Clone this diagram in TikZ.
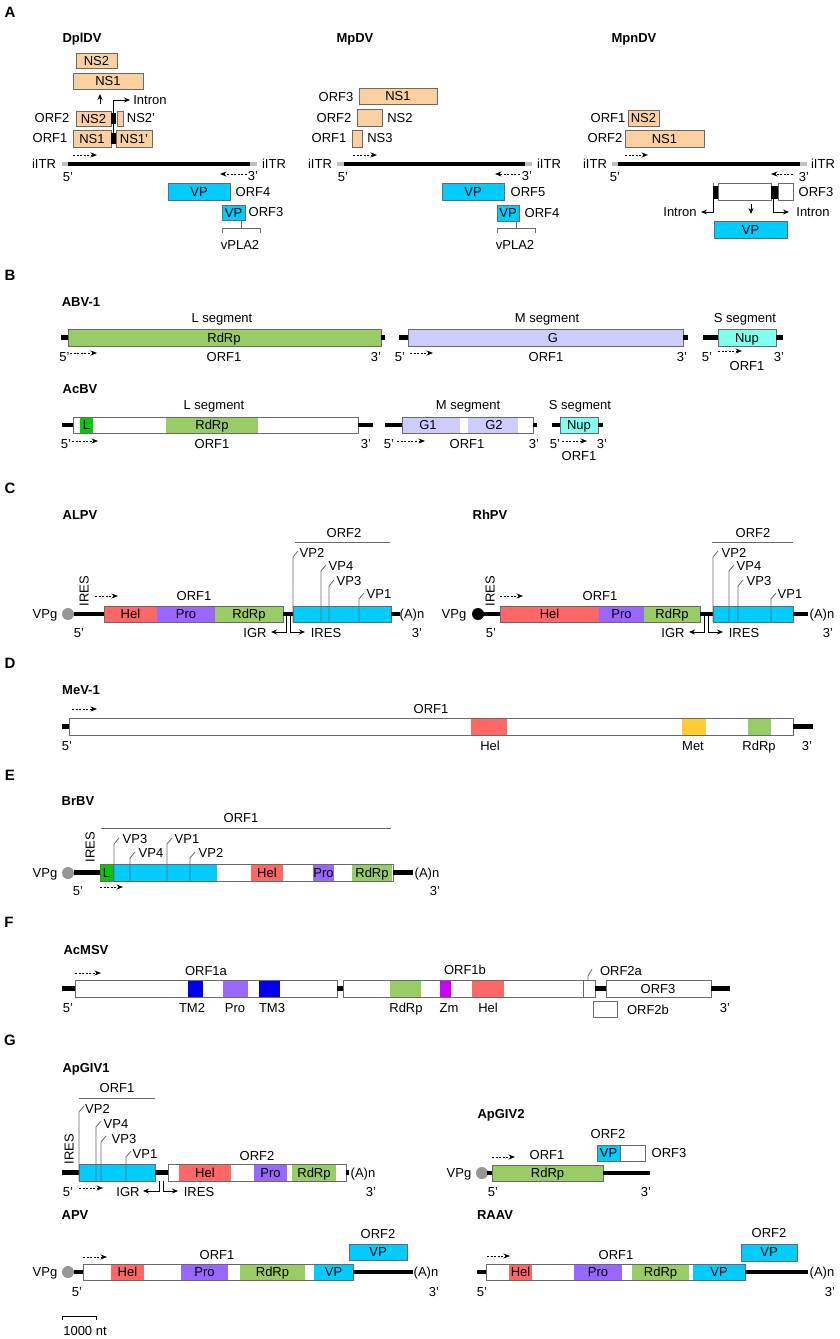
\documentclass[tikz,border=0pt]{standalone}
\usepackage{fontspec}
\setmainfont{Liberation Sans}
\usetikzlibrary{arrows.meta}
\definecolor{nsc}{RGB}{250,208,160}
\definecolor{vpc}{RGB}{0,204,255}
\definecolor{rdc}{RGB}{153,204,102}
\definecolor{hec}{RGB}{255,102,102}
\definecolor{prc}{RGB}{153,102,255}
\definecolor{glc}{RGB}{204,204,255}
\definecolor{nuc}{RGB}{128,255,238}
\definecolor{lgc}{RGB}{0,204,0}
\definecolor{mec}{RGB}{255,204,51}
\definecolor{tmc}{RGB}{0,0,238}
\definecolor{zmc}{RGB}{204,0,255}
\definecolor{bord}{RGB}{105,105,105}
\definecolor{vpgc}{RGB}{150,150,150}
\definecolor{itc}{RGB}{192,192,192}
\newcommand\lb[4]{\node[lbl] (#1) at (#2,#3) {#4};}
\newcommand\gbx[5]{\filldraw[bx,fill=#5] (#1,#2) rectangle (#3,#4);}
\newcommand\cseg[5]{\fill[#5] (#1,#2) rectangle (#3,#4);}
\newcommand\bline[3]{\draw[gl] (#1,#3) -- (#2,#3);}
\newcommand\vlead[3]{\draw[ld] (#1,#2) -- (#1,#3) -- ++(5,-6);}
\tikzset{
 lbl/.style={font=\fontsize{13}{13}\selectfont, inner sep=0pt, text height=9.3pt, text depth=0pt},
 ttl/.style={lbl, font=\bfseries\fontsize{13}{13}\selectfont},
 plet/.style={lbl, font=\bfseries\fontsize{15}{15}\selectfont, text height=10.7pt},
 bx/.style={draw=bord, line width=0.9pt},
 gl/.style={line width=4.5pt},
 itg/.style={line width=4.5pt, itc},
 ld/.style={draw=bord, line width=0.8pt},
 dar/.style={dash pattern=on 2pt off 1.6pt, line width=0.8pt, -{Stealth[length=6.5pt,width=5pt]}},
 arr/.style={line width=0.8pt, -{Stealth[length=6pt,width=5pt]}},
}
\begin{document}
\begin{tikzpicture}[x=1pt,y=-1pt]
\useasboundingbox (0,0) rectangle (839,1339);
\fill[white] (0,0) rectangle (839,1339);
%================ A
\node[plet] (pA) at (10,12) {A};
% DplDV
\node[ttl] (tA1) at (82,38) {DplDV};
\gbx{76}{53}{117}{68}{nsc} \lb{a1}{96.5}{60.5}{NS2}
\gbx{73}{73}{143}{89}{nsc} \lb{a2}{108}{81}{NS1}
\draw[arr] (100,104) -- (100,94);
\lb{a4}{52}{118}{ORF2}
\gbx{76}{111}{111}{126}{nsc} \lb{a5}{93.5}{118.5}{NS2}
\fill (111,113) rectangle (116,124);
\gbx{117}{111}{123}{126}{nsc}
\lb{a6}{141}{118}{NS2’}
\lb{a7}{50}{138}{ORF1}
\gbx{73}{130}{111}{147}{nsc} \lb{a8}{92}{138.5}{NS1}
\fill (111,133) rectangle (116,144);
\gbx{116}{130}{152}{147}{nsc} \lb{a9}{134}{138.5}{NS1’}
\draw[arr] (113.5,133) -- (113.5,100) -- (130,100);
\lb{a3}{150}{100}{Intron}
\draw[itg] (62,164) -- (68,164); \bline{68}{250}{164} \draw[itg] (250,164) -- (257,164);
\lb{a10}{44}{164}{iITR} \lb{a11}{274}{164}{iITR}
\draw[dar] (73,155) -- (97,155);
\lb{a12}{68}{177}{5’}
\draw[dar] (247,174) -- (220,174);
\lb{a13}{253}{176}{3’}
\gbx{168}{183}{230}{200}{vpc} \lb{a14}{199}{191.5}{VP} \lb{a15}{253}{192}{ORF4}
\gbx{222}{205}{245}{220}{vpc} \lb{a16}{233.5}{212.5}{VP} \lb{a17}{266}{212}{ORF3}
\draw[ld] (241,220) -- (241,228); \draw[ld] (222,233) -- (222,228) -- (260,228) -- (260,233);
\lb{a18}{240}{245}{vPLA2}
% MpDV
\node[ttl] (tA2) at (355,38) {MpDV};
\lb{b1}{336}{97}{ORF3} \gbx{359}{88}{437}{104}{nsc} \lb{b2}{398}{96}{NS1}
\lb{b3}{334}{118}{ORF2} \gbx{357}{109}{382}{126}{nsc} \lb{b4}{400}{118}{NS2}
\lb{b5}{329}{138}{ORF1} \gbx{352}{130}{362}{147}{nsc} \lb{b6}{380}{138}{NS3}
\draw[itg] (337,164) -- (344,164); \bline{344}{525}{164} \draw[itg] (525,164) -- (532,164);
\lb{b7}{320}{164}{iITR} \lb{b8}{549}{164}{iITR}
\draw[dar] (353,155) -- (377,155);
\lb{b9}{343}{177}{5’}
\draw[dar] (520,174) -- (495,174);
\lb{b10}{527}{176}{3’}
\gbx{442}{183}{504}{200}{vpc} \lb{b11}{473}{191.5}{VP} \lb{b12}{528}{192}{ORF5}
\gbx{497}{205}{519}{221}{vpc} \lb{b13}{508}{213}{VP} \lb{b14}{542}{213}{ORF4}
\draw[ld] (516,221) -- (516,228); \draw[ld] (497,233) -- (497,228) -- (535,228) -- (535,233);
\lb{b15}{515}{245}{vPLA2}
% MpnDV
\node[ttl] (tA3) at (634,38) {MpnDV};
\lb{c1}{608}{118}{ORF1} \gbx{628}{110}{659}{126}{nsc} \lb{c2}{643.5}{118}{NS2}
\lb{c3}{605}{138}{ORF2} \gbx{625}{130}{704}{147}{nsc} \lb{c4}{664.5}{138.5}{NS1}
\draw[itg] (612,164) -- (618,164); \bline{618}{800}{164} \draw[itg] (800,164) -- (807,164);
\lb{c5}{595}{164}{iITR} \lb{c6}{823}{164}{iITR}
\draw[dar] (625,155) -- (648,155);
\lb{c7}{615}{177}{5’}
\draw[dar] (793,174) -- (771,174);
\lb{c8}{804}{177}{3’}
\draw[ld] (713,183) -- (713,200);
\fill (713,186) rectangle (718,199);
\gbx{718}{183}{771}{200}{white}
\fill (771,186) rectangle (778,199);
\gbx{778}{183}{793}{200}{white}
\lb{c9}{816}{192}{ORF3}
\draw[arr] (713.5,199) -- (713.5,212) -- (701,212); \lb{c10}{680}{212}{Intron}
\draw[arr] (773.5,199) -- (773.5,212) -- (789,212); \lb{c11}{813}{212}{Intron}
\draw[arr] (751,204) -- (751,214);
\gbx{714}{221}{787}{238}{vpc} \lb{c12}{750.5}{229.5}{VP}
%================ B
\node[plet] (pB) at (10,275) {B};
\node[ttl] (tB1) at (81,302) {ABV-1};
\lb{d1}{222}{318}{L segment}
\bline{61}{68}{337.5} \gbx{68}{329}{381}{346}{rdc} \bline{381}{385}{337.5}
\lb{d2}{224}{337.5}{RdRp}
\lb{d3}{64.5}{357}{5’} \draw[dar] (70,353) -- (97,353) ; \lb{d4}{224}{357}{ORF1} \lb{d5}{376}{357}{3’}
\lb{d6}{547}{318}{M segment}
\bline{399}{408}{337.5} \gbx{408}{329}{683}{346}{glc} \bline{683}{688}{337.5}
\lb{d7}{553}{337.5}{G}
\lb{d8}{400}{357}{5’} \draw[dar] (410,353) -- (433,353); \lb{d9}{546}{357}{ORF1} \lb{d10}{682}{357}{3’}
\lb{d11}{745}{318}{S segment}
\bline{703}{718}{337.5} \gbx{718}{329}{776}{346}{nuc} \bline{776}{783}{337.5}
\lb{d12}{747}{337.5}{Nup}
\lb{d13}{707}{357}{5’} \draw[dar] (718,351) -- (742,351); \lb{d14}{747}{366}{ORF1} \lb{d15}{779}{357}{3’}
% AcBV
\node[ttl] (tB2) at (80,389) {AcBV};
\lb{e1}{214}{405}{L segment}
\bline{62}{73}{425} \gbx{73}{417}{358}{433}{white}
\cseg{80}{417}{93}{433}{lgc} \cseg{166}{417}{258}{433}{rdc}
\draw[bx] (73,417) rectangle (358,433);
\bline{358}{373}{425}
\lb{e2}{86.5}{425}{L} \lb{e3}{212}{425}{RdRp}
\lb{e4}{66}{444}{5’} \draw[dar] (72,441) -- (98,441); \lb{e5}{212}{444}{ORF1} \lb{e6}{366}{444}{3’}
\lb{e7}{468}{405}{M segment}
\bline{385}{402}{425} \gbx{402}{417}{533}{433}{white}
\cseg{402}{417}{460}{433}{glc} \cseg{468}{417}{518}{433}{glc}
\draw[bx] (402,417) rectangle (533,433);
\bline{533}{537}{425}
\lb{e8}{428}{425}{G1} \lb{e9}{494}{425}{G2}
\lb{e10}{389}{444}{5’} \draw[dar] (397,441) -- (425,441); \lb{e11}{467}{444}{ORF1} \lb{e12}{534}{444}{3’}
\lb{e13}{580}{405}{S segment}
\bline{552}{560}{425} \gbx{560}{417}{598}{433}{nuc} \bline{598}{603}{425}
\lb{e14}{579}{425}{Nup}
\lb{e15}{555}{444}{5’} \draw[dar] (562,441) -- (587,441); \lb{e16}{602}{444}{3’} \lb{e17}{579}{456}{ORF1}
%================ C
\node[plet] (pC) at (10,488) {C};
% ALPV
\node[ttl] (tC1) at (80,515) {ALPV};
\lb{f1}{344}{533}{ORF2} \draw[ld] (295,542) -- (390,542);
\lb{f2}{45}{614}{VPg}
\fill[vpgc] (68,614) circle (6);
\bline{74}{104}{614}
\cseg{104}{606}{157}{622}{hec} \cseg{157}{606}{215}{622}{prc} \cseg{215}{606}{283}{622}{rdc}
\draw[bx] (104,606) rectangle (283,622);
\lb{f3}{130.5}{614}{Hel} \lb{f4}{186}{614}{Pro} \lb{f5}{249}{614}{RdRp}
\bline{283}{293}{614}
\gbx{293}{606}{391}{622}{vpc}
\bline{391}{400}{614}
\lb{f6}{412}{614}{(A)n} \lb{f7}{417}{633}{3’} \lb{f8}{79}{633}{5’}
\vlead{293}{622}{557} \lb{f9}{312}{553}{VP2}
\vlead{321}{622}{571} \lb{f10}{341}{566}{VP4}
\vlead{329}{622}{586} \lb{f11}{349}{581}{VP3}
\vlead{359}{622}{599} \lb{f12}{379}{594}{VP1}
\node[lbl, rotate=90] (f13) at (84,591) {IRES};
\draw[dar] (95,596) -- (118,596); \lb{f14}{194}{596}{ORF1}
\draw[arr] (286,616) -- (286,632) -- (271,632); \lb{f15}{255}{633}{IGR}
\draw[arr] (290,616) -- (290,632) -- (305,632); \lb{f16}{326}{633}{IRES}
% RhPV
\node[ttl] (tC2) at (490,515) {RhPV};
\lb{g1}{753}{533}{ORF2} \draw[ld] (712,542) -- (793,542);
\lb{g2}{454}{614}{VPg}
\fill[black] (478,614) circle (6);
\bline{483}{500}{614}
\cseg{500}{606}{599}{622}{hec} \cseg{599}{606}{644}{622}{prc} \cseg{644}{606}{700}{622}{rdc}
\draw[bx] (500,606) rectangle (700,622);
\lb{g3}{549.5}{614}{Hel} \lb{g4}{621.5}{614}{Pro} \lb{g5}{672}{614}{RdRp}
\bline{700}{713}{614}
\gbx{713}{606}{793}{622}{vpc}
\bline{793}{808}{614}
\lb{g6}{822}{614}{(A)n} \lb{g7}{828}{633}{3’} \lb{g8}{491}{633}{5’}
\vlead{713}{622}{557} \lb{g9}{734}{553}{VP2}
\vlead{729}{622}{571} \lb{g10}{749}{566}{VP4}
\vlead{738}{622}{586} \lb{g11}{759}{581}{VP3}
\vlead{771}{622}{599} \lb{g12}{790}{594}{VP1}
\node[lbl, rotate=90] (g13) at (490,591) {IRES};
\draw[dar] (500,596) -- (523,596); \lb{g14}{600}{596}{ORF1}
\draw[arr] (704,616) -- (704,632) -- (689,632); \lb{g15}{673}{633}{IGR}
\draw[arr] (708,616) -- (708,632) -- (723,632); \lb{g16}{744}{633}{IRES}
%================ D
\node[plet] (pD) at (10,663) {D};
\node[ttl] (tD) at (81,690) {MeV-1};
\draw[dar] (72,709) -- (97,709); \lb{h1}{431}{709}{ORF1}
\bline{62}{69}{726.5}
\gbx{69}{718}{793}{735}{white}
\cseg{471}{718}{507}{735}{hec} \cseg{682}{718}{706}{735}{mec} \cseg{748}{718}{771}{735}{rdc}
\draw[bx] (69,718) rectangle (793,735);
\bline{793}{813}{726.5}
\lb{h2}{67}{746}{5’} \lb{h3}{490}{746}{Hel} \lb{h4}{693}{746}{Met} \lb{h5}{759}{746}{RdRp} \lb{h6}{807}{746}{3’}
%================ E
\node[plet] (pE) at (10,775) {E};
\node[ttl] (tE) at (78,801) {BrBV};
\lb{i1}{241}{818}{ORF1} \draw[ld] (101,828) -- (391,828);
\lb{i2}{45}{873}{VPg}
\fill[vpgc] (68,873) circle (6);
\bline{74}{100}{872.5}
\gbx{100}{864}{393}{881}{white}
\cseg{113}{864}{217}{881}{vpc} \cseg{251}{864}{283}{881}{hec} \cseg{313}{864}{334}{881}{prc} \cseg{352}{864}{392}{881}{rdc}
\draw[bx] (100,864) rectangle (393,881);
\gbx{100}{864}{113}{881}{lgc}
\bline{393}{413}{872.5}
\lb{i3}{106.5}{872.5}{L} \lb{i4}{267}{872.5}{Hel} \lb{i5}{323.5}{872.5}{Pro} \lb{i6}{372}{872.5}{RdRp}
\vlead{114}{881}{844} \lb{i7}{135}{839}{VP3}
\vlead{130}{881}{858} \lb{i8}{151}{853}{VP4}
\vlead{167}{881}{844} \lb{i9}{187}{839}{VP1}
\vlead{190}{881}{858} \lb{i10}{211}{853}{VP2}
\node[lbl, rotate=90] (i11) at (90,847) {IRES};
\lb{i12}{427}{873}{(A)n} \lb{i13}{78}{891}{5’} \lb{i14}{435}{891}{3’}
\draw[dar] (100,887) -- (123,887);
%================ F
\node[plet] (pF) at (9,922) {F};
\node[ttl] (tF) at (86,950) {AcMSV};
\draw[dar] (75,973) -- (101,973);
\lb{j1}{206}{971}{ORF1a} \lb{j2}{465}{970}{ORF1b}
\bline{62}{75}{988.5}
\gbx{75}{980}{337}{997}{white}
\cseg{188}{980}{203}{997}{tmc} \cseg{223}{980}{248}{997}{prc} \cseg{259}{980}{280}{997}{tmc}
\draw[bx] (75,980) rectangle (337,997);
\bline{337}{343}{988.5}
\gbx{343}{980}{583}{997}{white}
\cseg{390}{980}{421}{997}{rdc} \cseg{440}{980}{451}{997}{zmc} \cseg{472}{980}{504}{997}{hec}
\draw[bx] (343,980) rectangle (583,997);
\gbx{583}{980}{595}{997}{white}
\bline{595}{606}{988.5}
\gbx{606}{980}{711}{997}{white} \lb{j3}{658}{988.5}{ORF3}
\bline{711}{730}{988.5}
\draw[ld] (588,980) -- (588,976) -- ++(4,-7); \lb{j4}{621}{971}{ORF2a}
\lb{j5}{68}{1008}{5’} \lb{j6}{192}{1008}{TM2} \lb{j7}{235}{1008}{Pro} \lb{j8}{272}{1008}{TM3}
\lb{j9}{406}{1008}{RdRp} \lb{j10}{449}{1008}{Zm} \lb{j11}{488}{1008}{Hel} \lb{j12}{725}{1008}{3’}
\gbx{593}{1001}{617}{1017}{white} \lb{j13}{648}{1010}{ORF2b}
%================ G
\node[plet] (pG) at (10,1040) {G};
% ApGIV1
\node[ttl] (tG1) at (86,1068) {ApGIV1};
\lb{k1}{117}{1088}{ORF1} \draw[ld] (79,1098) -- (155,1098);
\bline{62}{79}{1172.5}
\gbx{79}{1164}{155}{1181}{vpc}
\bline{155}{168}{1172.5}
\gbx{168}{1164}{346}{1181}{white}
\cseg{179}{1164}{231}{1181}{hec} \cseg{254}{1164}{287}{1181}{prc} \cseg{292}{1164}{336}{1181}{rdc}
\draw[bx] (168,1164) rectangle (346,1181);
\bline{346}{349}{1172.5}
\lb{k2}{205}{1172.5}{Hel} \lb{k3}{270.5}{1172.5}{Pro} \lb{k4}{314}{1172.5}{RdRp}
\lb{k5}{363}{1173}{(A)n} \lb{k6}{257}{1156}{ORF2}
\vlead{79}{1181}{1112} \lb{k7}{97.5}{1109}{VP2}
\vlead{96}{1181}{1127} \lb{k8}{116}{1124}{VP4}
\vlead{101}{1181}{1142} \lb{k9}{124}{1139}{VP3}
\vlead{126}{1181}{1157} \lb{k10}{145}{1154}{VP1}
\node[lbl, rotate=90] (k11) at (69,1149) {IRES};
\lb{k12}{68}{1192}{5’} \draw[dar] (79,1188) -- (103,1188);
\draw[arr] (159,1181) -- (159,1191) -- (143,1191); \lb{k13}{128}{1192}{IGR}
\draw[arr] (163,1181) -- (163,1191) -- (178,1191); \lb{k14}{199}{1192}{IRES}
\lb{k15}{371}{1192}{3’}
% ApGIV2
\node[ttl] (tG2) at (501,1114) {ApGIV2};
\lb{l1}{608}{1134}{ORF2}
\gbx{597}{1145}{620}{1161}{vpc} \gbx{620}{1145}{645}{1161}{white}
\lb{l2}{608.5}{1153}{VP} \lb{l3}{669}{1153}{ORF3}
\draw[dar] (492,1157) -- (515,1157); \lb{l4}{547}{1155}{ORF1}
\lb{l5}{459}{1173}{VPg}
\fill[vpgc] (482,1173) circle (6);
\bline{487}{492}{1173}
\gbx{492}{1165}{603}{1181}{rdc} \lb{l6}{547.5}{1173}{RdRp}
\bline{603}{650}{1173}
\lb{l7}{493}{1192}{5’} \lb{l8}{646}{1192}{3’}
% APV
\node[ttl] (tG3) at (75,1215) {APV};
\lb{m1}{378}{1234}{ORF2} \gbx{349}{1244}{407}{1260}{vpc} \lb{m2}{378}{1252}{VP}
\lb{m3}{217}{1255}{ORF1} \draw[dar] (83,1257) -- (107,1257);
\lb{m4}{45}{1272}{VPg}
\fill[vpgc] (68,1272) circle (6);
\bline{74}{83}{1272}
\gbx{83}{1264}{353}{1280}{white}
\cseg{111}{1264}{144}{1280}{hec} \cseg{181}{1264}{228}{1280}{prc} \cseg{240}{1264}{305}{1280}{rdc} \cseg{314}{1264}{353}{1280}{vpc}
\draw[bx] (83,1264) rectangle (353,1280);
\lb{m5}{127.5}{1272}{Hel} \lb{m6}{204.5}{1272}{Pro} \lb{m7}{272.5}{1272}{RdRp} \lb{m8}{333.5}{1272}{VP}
\bline{353}{413}{1272}
\lb{m9}{426}{1272}{(A)n} \lb{m10}{77}{1292}{5’} \lb{m11}{434}{1292}{3’}
% RAAV
\node[ttl] (tG4) at (495,1215) {RAAV};
\lb{n1}{769}{1233}{ORF2} \gbx{741}{1244}{797}{1261}{vpc} \lb{n2}{769}{1252}{VP}
\lb{n3}{616}{1255}{ORF1} \draw[dar] (487,1256) -- (510,1256);
\bline{477}{486}{1272}
\gbx{486}{1264}{745}{1280}{white}
\cseg{509}{1264}{532}{1280}{hec} \cseg{574}{1264}{622}{1280}{prc} \cseg{632}{1264}{689}{1280}{rdc} \cseg{693}{1264}{745}{1280}{vpc}
\draw[bx] (486,1264) rectangle (745,1280);
\lb{n4}{520.5}{1272}{Hel} \lb{n5}{598}{1272}{Pro} \lb{n6}{660.5}{1272}{RdRp} \lb{n7}{719}{1272}{VP}
\bline{745}{808}{1272}
\lb{n8}{822}{1272}{(A)n} \lb{n9}{482}{1292}{5’} \lb{n10}{830}{1292}{3’}
% scale bar
\draw[line width=0.9pt] (62,1320) -- (62,1316) -- (96,1316) -- (96,1320);
\lb{o1}{85}{1331}{1000 nt}
\end{tikzpicture}
\end{document}
